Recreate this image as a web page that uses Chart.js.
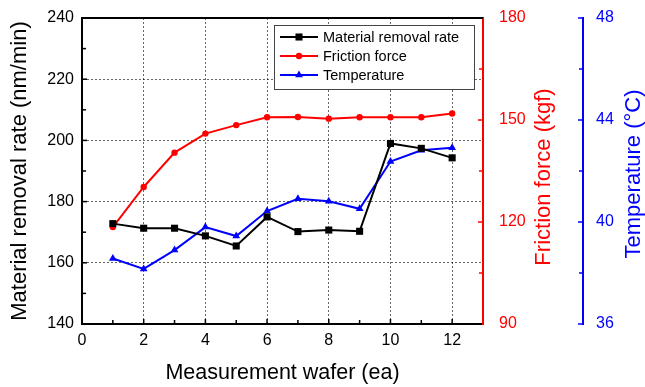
<!DOCTYPE html>
<html>
<head>
<meta charset="utf-8">
<script src="https://cdn.jsdelivr.net/npm/chart.js"></script>
<style>
  html, body { margin: 0; padding: 0; background: #fff; }
  #wrap { width: 645px; height: 387px; }
</style>
</head>
<body>
<div id="wrap"><canvas id="chart" width="645" height="387"></canvas></div>
<script>
// data
const wafers = [1, 2, 3, 4, 5, 6, 7, 8, 9, 10, 11, 12];
const removalRate = [172.8, 171.3, 171.3, 168.8, 165.5, 175.0, 170.2, 170.7, 170.3, 199.0, 197.4, 194.3];
const frictionForce = [118.5, 130.3, 140.4, 146.0, 148.5, 150.8, 150.9, 150.4, 150.8, 150.8, 150.8, 151.9];
const temperature = [38.57, 38.16, 38.9, 39.8, 39.45, 40.43, 40.91, 40.81, 40.52, 42.37, 42.81, 42.91];
const seriesNames = ["Material removal rate", "Friction force", "Temperature"];

const xTitle = "Measurement wafer (ea)";
const yTitle = "Material removal rate (nm/min)";
const y1Title = "Friction force (kgf)";
const y2Title = "Temperature (\u00B0C)";

const FONT = "'Liberation Sans', Arial, sans-serif";
const RED = "#ff0000", BLUE = "#0000ff", BLACK = "#000000";

function pts(vals) {
    return wafers.map((w, i) => ({ x: w, y: vals[i] }));
}

function marker(ctx, style, r, x, y) {
    ctx.beginPath();
    if (style === "rect") {
        let s = r * Math.SQRT1_2;
        ctx.rect(x - s, y - s, 2 * s, 2 * s);
    } else if (style === "triangle") {
        ctx.moveTo(x, y - r);
        ctx.lineTo(x + r * 0.866, y + r * 0.5);
        ctx.lineTo(x - r * 0.866, y + r * 0.5);
        ctx.closePath();
    } else {
        ctx.arc(x, y, r, 0, Math.PI * 2);
    }
    ctx.fill();
}

const decor = {
    id: "decor",
    afterDraw(chart) {
        let ctx = chart.ctx;
        let a = chart.chartArea;
        let sx = chart.scales.x, sy = chart.scales.y, sr = chart.scales.y1, sb = chart.scales.y2;
        ctx.save();

        // top frame line
        ctx.strokeStyle = BLACK;
        ctx.lineWidth = 2;
        ctx.beginPath();
        ctx.moveTo(a.left - 1, a.top);
        ctx.lineTo(a.right, a.top);
        ctx.stroke();

        // inward tick marks (major + minor at midpoints)
        let vTicks = (scale, x, dir, color, ends) => {
            let vals = scale.ticks.map(t => t.value);
            ctx.strokeStyle = color;
            ctx.lineWidth = 1.5;
            vals.forEach((v, i) => {
                if ((i === 0 || i === vals.length - 1) && !ends) return;
                let y = scale.getPixelForValue(v);
                ctx.beginPath(); ctx.moveTo(x, y); ctx.lineTo(x + dir * 5, y); ctx.stroke();
            });
            for (let i = 0; i < vals.length - 1; i++) {
                let y = scale.getPixelForValue((vals[i] + vals[i + 1]) / 2);
                ctx.beginPath(); ctx.moveTo(x, y); ctx.lineTo(x + dir * 4, y); ctx.stroke();
            }
        };
        vTicks(sy, a.left, 1, BLACK, false);
        vTicks(sr, a.right, -1, RED, false);
        vTicks(sb, sb.left, -1, BLUE, true);

        let xv = sx.ticks.map(t => t.value);
        ctx.strokeStyle = BLACK;
        ctx.lineWidth = 1.5;
        xv.forEach(v => {
            if (v === 0) return;
            let x = sx.getPixelForValue(v);
            ctx.beginPath(); ctx.moveTo(x, a.bottom); ctx.lineTo(x, a.bottom - 5); ctx.stroke();
            let m = sx.getPixelForValue(v - 1);
            ctx.beginPath(); ctx.moveTo(m, a.bottom); ctx.lineTo(m, a.bottom - 4); ctx.stroke();
        });

        // axis titles
        let title = (text, x, y, rot, color, size) => {
            ctx.save();
            ctx.translate(x, y);
            ctx.rotate(rot);
            ctx.fillStyle = color;
            ctx.font = size + "px " + FONT;
            ctx.textAlign = "center";
            ctx.textBaseline = "middle";
            ctx.fillText(text, 0, 0);
            ctx.restore();
        };
        title(yTitle, 20, (a.top + a.bottom) / 2, -Math.PI / 2, BLACK, 22);
        title(xTitle, (a.left + a.right) / 2, 373, 0, BLACK, 21.5);
        title(y1Title, 544, 177, -Math.PI / 2, RED, 22);
        title(y2Title, 634, 174, -Math.PI / 2, BLUE, 22);

        // legend box
        ctx.fillStyle = "#fff";
        ctx.fillRect(274, 25, 200, 64);
        ctx.strokeStyle = "#444";
        ctx.lineWidth = 1;
        ctx.strokeRect(274.5, 25.5, 200, 64);
        let rows = [37, 56, 75];
        chart.data.datasets.forEach((ds, i) => {
            let y = rows[i];
            ctx.strokeStyle = ds.borderColor;
            ctx.fillStyle = ds.backgroundColor;
            ctx.lineWidth = 2;
            ctx.beginPath(); ctx.moveTo(280, y); ctx.lineTo(318, y); ctx.stroke();
            marker(ctx, ds.pointStyle, ds.pointRadius, 299, y);
            ctx.fillStyle = BLACK;
            ctx.font = "14.5px " + FONT;
            ctx.textAlign = "left";
            ctx.textBaseline = "middle";
            ctx.fillText(ds.label, 323, y + 1);
        });

        ctx.restore();
    }
};

chart = new Chart(document.getElementById("chart"), {
    type: "line",
    data: {
        datasets: [{
            label: seriesNames[0],
            data: pts(removalRate),
            yAxisID: "y",
            borderColor: BLACK,
            backgroundColor: BLACK,
            pointStyle: "rect",
            pointRadius: 5,
            borderWidth: 2,
            pointBorderWidth: 0
        }, {
            label: seriesNames[1],
            data: pts(frictionForce),
            yAxisID: "y1",
            borderColor: RED,
            backgroundColor: RED,
            pointStyle: "circle",
            pointRadius: 3.2,
            borderWidth: 2,
            pointBorderWidth: 0
        }, {
            label: seriesNames[2],
            data: pts(temperature),
            yAxisID: "y2",
            borderColor: BLUE,
            backgroundColor: BLUE,
            pointStyle: "triangle",
            pointRadius: 4.5,
            borderWidth: 2,
            pointBorderWidth: 0
        }]
    },
    options: {
        responsive: false,
        animation: false,
        layout: { padding: { top: 18 } },
        plugins: { legend: { display: false }, tooltip: { enabled: false } },
        scales: {
            x: {
                type: "linear", position: "bottom", min: 0, max: 13,
                afterFit: s => { s.height = 63; },
                ticks: { stepSize: 2, includeBounds: false, color: BLACK, padding: 7, maxRotation: 0,
                         font: { size: 16, family: FONT } },
                grid: { color: "rgba(0,0,0,0.6)", lineWidth: 1, drawTicks: false },
                border: { color: BLACK, width: 2, dash: [2, 2] }
            },
            y: {
                position: "left", min: 140, max: 240,
                afterFit: s => { s.width = 82; },
                ticks: { stepSize: 20, color: BLACK, padding: 8, font: { size: 16, family: FONT } },
                grid: { color: "rgba(0,0,0,0.6)", lineWidth: 1, drawTicks: false },
                border: { color: BLACK, width: 2, dash: [2, 2] }
            },
            y1: {
                position: "right", min: 90, max: 180,
                afterFit: s => { s.width = 100; },
                ticks: { stepSize: 30, color: RED, padding: 8, font: { size: 16, family: FONT } },
                grid: { display: false, drawOnChartArea: false },
                border: { color: RED, width: 2 }
            },
            y2: {
                position: "right", min: 36, max: 48,
                afterFit: s => { s.width = 62; },
                ticks: { stepSize: 4, color: BLUE, padding: 5, font: { size: 16, family: FONT } },
                grid: { display: false, drawOnChartArea: false },
                border: { color: BLUE, width: 2 }
            }
        }
    },
    plugins: [decor]
});
</script>
</body>
</html>
